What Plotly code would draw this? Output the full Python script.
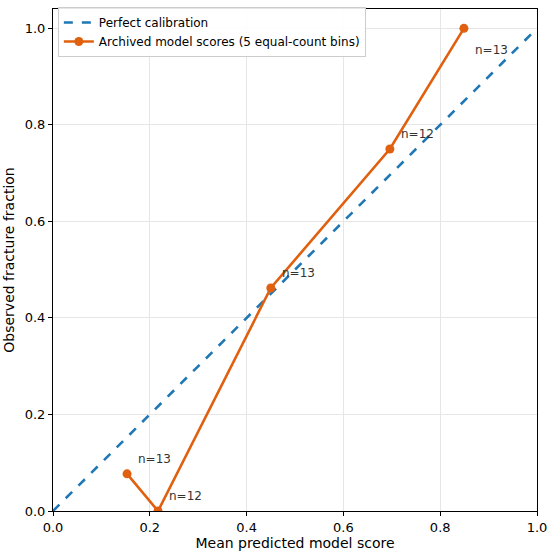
import plotly.graph_objs as go

# binned calibration data
mean_pred = [0.153, 0.217, 0.450, 0.696, 0.849]
obs_frac = [0.077, 0.0, 0.462, 0.75, 1.0]
bin_counts = [13, 12, 13, 12, 13]
diag = [0, 1]

blue = '#1f77b4'
orange = '#e0600f'

fig = go.Figure()

fig.add_trace(go.Scatter(x=diag, y=diag, mode='lines',
                         line=dict(color=blue, width=2.6, dash='dash'),
                         name='Perfect calibration'))

fig.add_trace(go.Scatter(x=mean_pred, y=obs_frac, mode='lines+markers',
                         line=dict(color=orange, width=2.6),
                         marker=dict(color=orange, size=9),
                         name='Archived model scores (5 equal-count bins)'))

# n labels next to each point
for x, y, n in zip(mean_pred, obs_frac, bin_counts):
    shift = -22 if y >= 1.0 else 15
    fig.add_annotation(x=x, y=y, text='n=%d' % n, showarrow=False,
                       xanchor='left', yanchor='middle',
                       xshift=9, yshift=shift,
                       font=dict(size=12, color='#333333'))

axis_style = dict(showline=True, linecolor='black', linewidth=1, mirror=True,
                  ticks='outside', ticklen=4, tickcolor='black',
                  showgrid=True, gridcolor='#e6e6e6', gridwidth=1,
                  zeroline=False, tickfont=dict(size=13, color='black'),
                  dtick=0.2, tickformat='.1f', automargin=False)

fig.update_layout(
    width=550, height=554,
    margin=dict(l=53, r=13, t=8, b=43),
    paper_bgcolor='white', plot_bgcolor='white',
    font=dict(family='DejaVu Sans', color='black'),
    legend=dict(x=0.01, y=1.002, xanchor='left', yanchor='top',
                bgcolor='rgba(255,255,255,0.9)', bordercolor='#cccccc',
                borderwidth=1, font=dict(size=12), tracegroupgap=0),
)
fig.update_xaxes(range=[0, 1], title=dict(text='Mean predicted model score',
                 font=dict(size=14), standoff=4), **axis_style)
fig.update_yaxes(range=[0, 1.04], title=dict(text='Observed fracture fraction',
                 font=dict(size=14), standoff=6), **axis_style)

fig.write_html('out.html', config={'displayModeBar': False},
               post_script="document.body.style.margin='0';")
